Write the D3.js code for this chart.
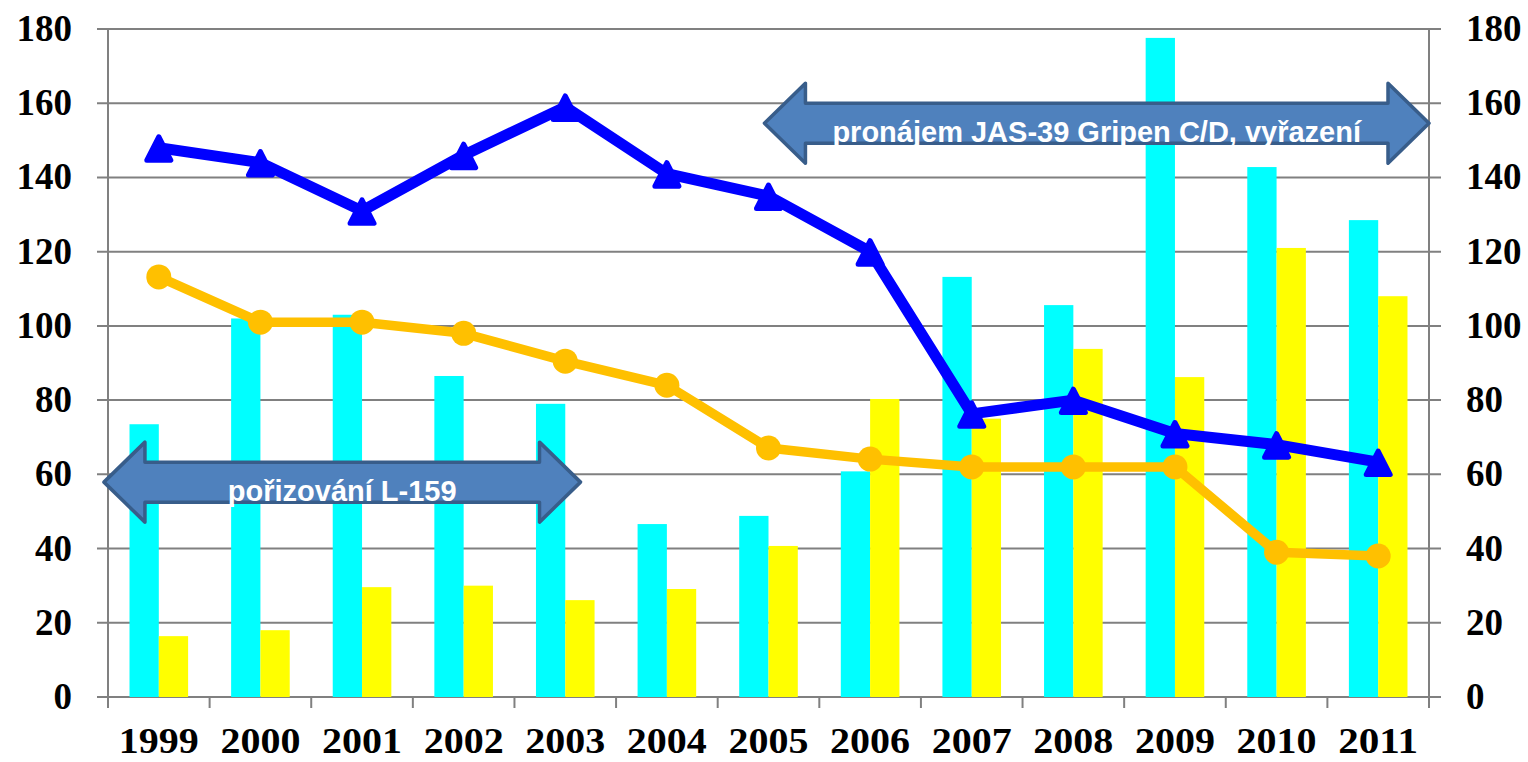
<!DOCTYPE html>
<html>
<head>
<meta charset="utf-8">
<script src="https://cdn.jsdelivr.net/npm/d3@7"></script>
<style>
  html, body { margin: 0; padding: 0; background: #fff; }
  svg { display: block; }
</style>
</head>
<body>
<svg id="chart" width="1528" height="762"></svg>
<script>
// ---- data ----
const years = ["1999","2000","2001","2002","2003","2004","2005","2006","2007","2008","2009","2010","2011"];
const cyanBars   = [73.5, 102, 103, 86.5, 79, 46.6, 48.8, 60.8, 113.2, 105.6, 177.6, 142.8, 128.5];
const yellowBars = [16.4, 18, 29.6, 30, 26.1, 29.1, 40.7, 80.3, 75, 93.8, 86.2, 121, 108];
const blueLine   = [148, 144, 131, 146, 159, 141, 135, 120, 76.3, 80, 71, 68, 63.3];
const orangeLine = [113.2, 101, 101, 98, 90.5, 84, 67.1, 64.1, 62, 62, 62, 39, 38];
const yTicks = [0, 20, 40, 60, 80, 100, 120, 140, 160, 180];
// annotation arrows: start/end on category index axis, level on value axis
const arrowLabels = ["pořizování L-159", "pronájem JAS-39 Gripen C/D, vyřazení"];
const arrowFrom   = [-0.04, 6.46];
const arrowTo     = [4.65, 13.0];
const arrowLevel  = [57.9, 154.6];

(function () {
// ---- layout ----
const svg = d3.select("#chart");
const pL = 108, pR = 1429, pT = 29, pB = 697;
const y = d3.scaleLinear().domain([0, 180]).range([pB, pT]);
const x = d3.scaleBand().domain(years).range([pL, pR]).padding(0);
const xi = d3.scaleLinear().domain([0, years.length]).range([pL, pR]);
const sub = d3.scaleBand().domain(["cyan", "yellow"]).range([0, x.bandwidth()]).paddingInner(0).paddingOuter(0.734);
const cx = d => x(d) + x.bandwidth() / 2;
const gridColor = "#808080";

svg.append("rect").attr("width", 1528).attr("height", 762).attr("fill", "#fff");

// gridlines
svg.append("g").selectAll("line").data(yTicks).join("line")
  .attr("x1", pL - 11).attr("x2", pR + 12)
  .attr("y1", d => y(d)).attr("y2", d => y(d))
  .attr("stroke", gridColor).attr("stroke-width", 2);

// vertical axes
svg.append("line").attr("x1", pL).attr("x2", pL).attr("y1", pT).attr("y2", pB + 11)
  .attr("stroke", gridColor).attr("stroke-width", 2);
svg.append("line").attr("x1", pR).attr("x2", pR).attr("y1", pT).attr("y2", pB + 11)
  .attr("stroke", gridColor).attr("stroke-width", 2);
// x ticks
svg.append("g").selectAll("line").data(d3.range(years.length + 1)).join("line")
  .attr("x1", d => xi(d)).attr("x2", d => xi(d))
  .attr("y1", pB).attr("y2", pB + 11)
  .attr("stroke", gridColor).attr("stroke-width", 2);

// bars
svg.append("g").selectAll("rect").data(years).join("rect")
  .attr("x", d => x(d) + sub("cyan")).attr("width", sub.bandwidth())
  .attr("y", (d, i) => y(cyanBars[i])).attr("height", (d, i) => y(0) - y(cyanBars[i]))
  .attr("fill", "#00FFFF");
svg.append("g").selectAll("rect").data(years).join("rect")
  .attr("x", d => x(d) + sub("yellow")).attr("width", sub.bandwidth())
  .attr("y", (d, i) => y(yellowBars[i])).attr("height", (d, i) => y(0) - y(yellowBars[i]))
  .attr("fill", "#FFFF00");

// orange line
const line = d3.line().x(d => cx(d[0])).y(d => y(d[1]));
svg.append("path").datum(years.map((d, i) => [d, orangeLine[i]]))
  .attr("d", line).attr("fill", "none").attr("stroke", "#FFC000")
  .attr("stroke-width", 9.5).attr("stroke-linejoin", "round");
svg.append("g").selectAll("circle").data(years).join("circle")
  .attr("cx", d => cx(d)).attr("cy", (d, i) => y(orangeLine[i])).attr("r", 12.5)
  .attr("fill", "#FFC000");

// blue line
svg.append("path").datum(years.map((d, i) => [d, blueLine[i]]))
  .attr("d", line).attr("fill", "none").attr("stroke", "#0000FF")
  .attr("stroke-width", 11).attr("stroke-linejoin", "round");
svg.append("g").selectAll("path").data(years).join("path")
  .attr("transform", (d, i) => `translate(${cx(d)},${y(blueLine[i])})`)
  .attr("d", "M0,-11 L12,12.5 L-12,12.5 Z")
  .attr("fill", "#0000FF").attr("stroke", "#0000FF").attr("stroke-width", 5)
  .attr("stroke-linejoin", "round");

// arrows
function arrowPath(x0, x1, cy) {
  const hl = 41, hh = 40, sh = 20;
  return `M${x0},${cy} L${x0 + hl},${cy - hh} L${x0 + hl},${cy - sh} L${x1 - hl},${cy - sh} L${x1 - hl},${cy - hh} L${x1},${cy} L${x1 - hl},${cy + hh} L${x1 - hl},${cy + sh} L${x0 + hl},${cy + sh} L${x0 + hl},${cy + hh} Z`;
}
const arrows = svg.append("g").selectAll("g").data(arrowLabels).join("g");
arrows.append("path")
  .attr("d", (d, i) => arrowPath(xi(arrowFrom[i]), xi(arrowTo[i]), y(arrowLevel[i])))
  .attr("fill", "#4F81BD").attr("stroke", "#385D8A").attr("stroke-width", 3.5)
  .attr("stroke-linejoin", "round");
arrows.append("text")
  .attr("x", (d, i) => (xi(arrowFrom[i]) + xi(arrowTo[i])) / 2)
  .attr("y", (d, i) => y(arrowLevel[i]) + 19)
  .attr("text-anchor", "middle")
  .attr("font-family", "'Liberation Sans', Arial, sans-serif")
  .attr("font-weight", "bold").attr("font-size", 29).attr("fill", "#fff")
  .text(d => d);

// tick labels
const labelFont = "'Liberation Serif', 'Times New Roman', serif";
const labelSize = 37;
svg.append("g").selectAll("text").data(yTicks).join("text")
  .attr("x", 72).attr("y", d => y(d) + 12)
  .attr("text-anchor", "end")
  .attr("font-family", labelFont).attr("font-weight", "bold").attr("font-size", labelSize)
  .text(d => d);
svg.append("g").selectAll("text").data(yTicks).join("text")
  .attr("x", 1466).attr("y", d => y(d) + 12)
  .attr("text-anchor", "start")
  .attr("font-family", labelFont).attr("font-weight", "bold").attr("font-size", labelSize)
  .text(d => d);
svg.append("g").selectAll("text").data(years).join("text")
  .attr("x", d => cx(d)).attr("y", 753)
  .attr("text-anchor", "middle")
  .attr("font-family", labelFont).attr("font-weight", "bold").attr("font-size", 35)
  .attr("textLength", 80).attr("lengthAdjust", "spacingAndGlyphs")
  .text(d => d);
})();
</script>
</body>
</html>
